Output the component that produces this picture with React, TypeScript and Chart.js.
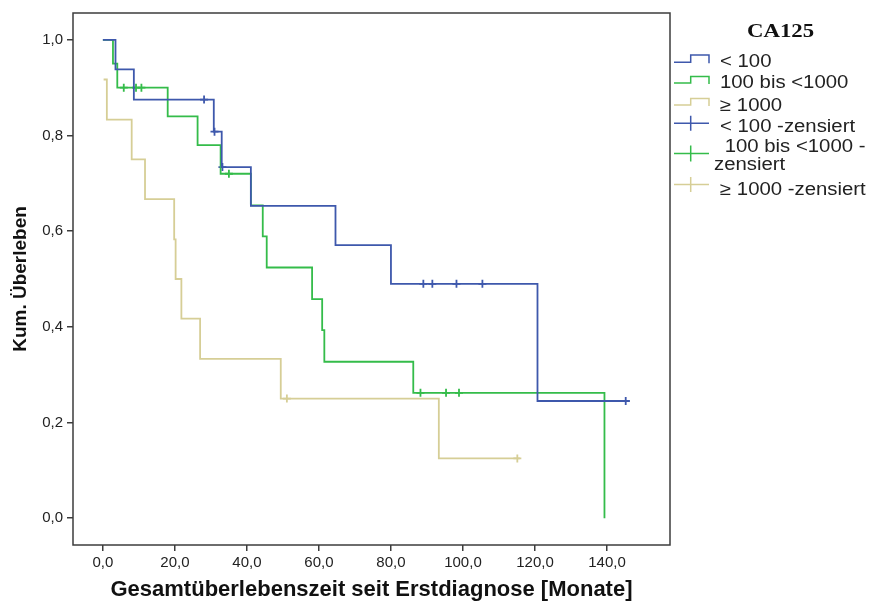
import React, { useEffect, useRef } from 'react';
import { Chart, registerables } from 'chart.js';

Chart.register(...registerables);

// ---- data ----
const xTicks = [0, 20, 40, 60, 80, 100, 120, 140];
const yTicks = [0, 0.2, 0.4, 0.6, 0.8, 1.0];

const seriesLabels = ['< 100', '100 bis <1000', '≥ 1000'];
const censorLabels = ['< 100 -zensiert', '100 bis <1000 -zensiert', '≥ 1000 -zensiert'];

// CA125 < 100
const lowTimes = [0, 3.5, 8.6, 30.8, 33.0, 41.1, 64.6, 80.0, 120.7, 146.3];
const lowSurv = [1.0, 0.938, 0.875, 0.808, 0.734, 0.653, 0.571, 0.49, 0.245, 0.245];
const lowCensTimes = [28.1, 31.0, 33.2, 89.0, 91.5, 98.2, 105.4, 145.2];
const lowCensSurv = [0.875, 0.808, 0.734, 0.49, 0.49, 0.49, 0.49, 0.245];

// CA125 100 bis <1000
const midTimes = [0, 2.8, 4.0, 18.0, 26.3, 32.7, 41.1, 44.4, 45.5, 58.1, 60.9, 61.5, 86.2, 139.3];
const midSurv = [1.0, 0.95, 0.9, 0.84, 0.78, 0.72, 0.654, 0.589, 0.524, 0.458, 0.393, 0.327, 0.262, 0.0];
const midCensTimes = [5.8, 9.2, 10.7, 35.0, 88.2, 95.3, 98.9];
const midCensSurv = [0.9, 0.9, 0.9, 0.72, 0.262, 0.262, 0.262];

// CA125 >= 1000
const highTimes = [0.2, 1.1, 8.0, 11.7, 19.8, 20.2, 21.8, 27.0, 49.4, 93.3, 115.8];
const highSurv = [0.917, 0.833, 0.75, 0.667, 0.583, 0.5, 0.417, 0.333, 0.25, 0.125, 0.125];
const highCensTimes = [51.1, 115.1];
const highCensSurv = [0.25, 0.125];

const colors = ['rgb(62,88,172)', 'rgb(52,188,74)', 'rgb(214,206,150)'];

const FONT = '"Liberation Sans", Arial, sans-serif';
const STRETCH = 1.13;

function pts(t: number[], s: number[]) {
  return t.map((v, i) => ({ x: v, y: s[i] }));
}

function fmt(v: number) {
  return v.toFixed(1).replace('.', ',');
}

function drawText(ctx: CanvasRenderingContext2D, text: string, x: number, y: number, font: string, color: string, sx: number) {
  ctx.save();
  ctx.translate(x, y);
  ctx.scale(sx, 1);
  ctx.font = font;
  ctx.fillStyle = color;
  ctx.textAlign = 'left';
  ctx.textBaseline = 'alphabetic';
  ctx.fillText(text, 0, 0);
  ctx.restore();
}

const framePlugin = {
  id: 'kmFrameLegend',
  afterDraw(chart: any) {
    const ctx: CanvasRenderingContext2D = chart.ctx;
    const { left, top, right, bottom } = chart.chartArea;
    ctx.save();
    ctx.strokeStyle = '#3c3c3c';
    ctx.lineWidth = 1.5;
    ctx.strokeRect(left, top, right - left, bottom - top);

    // legend title
    drawText(ctx, 'CA125', 747, 37, 'bold 19px "Liberation Serif", "Times New Roman", serif', '#111', 1.2);

    const ds = chart.data.datasets;
    const textFont = `18px ${FONT}`;
    const x0 = 674;
    const xm = 690.7;
    const x1 = 709;
    ctx.lineWidth = 1.5;
    // step icons for the three curves
    const stepRows = [
      { low: 62.3, high: 55, text: 60 },
      { low: 83, high: 76.5, text: 81.7 },
      { low: 105, high: 98.5, text: 104.3 },
    ];
    stepRows.forEach((r, i) => {
      ctx.strokeStyle = ds[i].borderColor;
      ctx.beginPath();
      ctx.moveTo(x0, r.low);
      ctx.lineTo(xm, r.low);
      ctx.lineTo(xm, r.high);
      ctx.lineTo(x1, r.high);
      ctx.lineTo(x1, r.low + 1);
      ctx.stroke();
      drawText(ctx, ds[i].label, 720, r.text + 6.5, textFont, '#222', STRETCH);
    });
    // censor icons
    const cRows = [
      { line: 123.3, h: 7.5 },
      { line: 153.5, h: 8 },
      { line: 184.5, h: 7.5 },
    ];
    cRows.forEach((r, i) => {
      ctx.strokeStyle = ds[i + 3].borderColor;
      ctx.beginPath();
      ctx.moveTo(x0, r.line);
      ctx.lineTo(x1, r.line);
      ctx.moveTo(xm, r.line - r.h);
      ctx.lineTo(xm, r.line + r.h);
      ctx.stroke();
    });
    const l3 = ds[3].label;
    const l4 = ds[4].label as string;
    const l5 = ds[5].label;
    drawText(ctx, l3, 720, 125 + 6.5, textFont, '#222', STRETCH);
    const cut = l4.indexOf('-') + 1;
    drawText(ctx, ' ' + l4.slice(0, cut), 719, 145 + 6.5, textFont, '#222', STRETCH);
    drawText(ctx, l4.slice(cut), 714, 163 + 6.5, textFont, '#222', STRETCH);
    drawText(ctx, l5, 720, 188 + 6.5, textFont, '#222', STRETCH);
    ctx.restore();
  },
};

export default function App() {
  const ref = useRef<HTMLCanvasElement | null>(null);
  useEffect(() => {
    if (!ref.current) return;
    const stepDs = (label: string, t: number[], s: number[], c: string) => ({
      type: 'line' as const,
      label,
      data: pts(t, s),
      stepped: true,
      borderColor: c,
      backgroundColor: c,
      borderWidth: 1.8,
      pointRadius: 0,
      pointHoverRadius: 0,
      fill: false,
    });
    const censDs = (label: string, t: number[], s: number[], c: string) => ({
      type: 'line' as const,
      label,
      data: pts(t, s),
      showLine: false,
      borderColor: c,
      backgroundColor: c,
      pointStyle: 'cross',
      pointRadius: 4,
      pointBorderWidth: 1.8,
      borderWidth: 1.8,
    });
    const chart = new Chart(ref.current, {
      type: 'line',
      data: {
        datasets: [
          stepDs(seriesLabels[0], lowTimes, lowSurv, colors[0]),
          stepDs(seriesLabels[1], midTimes, midSurv, colors[1]),
          stepDs(seriesLabels[2], highTimes, highSurv, colors[2]),
          censDs(censorLabels[0], lowCensTimes, lowCensSurv, colors[0]),
          censDs(censorLabels[1], midCensTimes, midCensSurv, colors[1]),
          censDs(censorLabels[2], highCensTimes, highCensSurv, colors[2]),
        ] as any,
      },
      options: {
        responsive: false,
        devicePixelRatio: 1,
        animation: false,
        events: [],
        layout: { padding: { left: 0, top: 12, right: 207, bottom: 0 } },
        plugins: {
          legend: { display: false },
          tooltip: { enabled: false },
          title: { display: false },
        },
        scales: {
          x: {
            type: 'linear',
            min: -8.3,
            max: 157.5,
            afterBuildTicks: (s: any) => {
              s.ticks = xTicks.map((v) => ({ value: v }));
            },
            afterFit: (s: any) => {
              s.height = 59;
            },
            ticks: {
              callback: (v: any) => fmt(Number(v)),
              font: { family: FONT, size: 15 },
              color: '#222',
              padding: 3,
              maxRotation: 0,
              autoSkip: false,
            },
            grid: { drawOnChartArea: false, drawTicks: true, tickLength: 6, color: '#3c3c3c', lineWidth: 1.5 },
            border: { display: false },
            title: {
              display: true,
              text: 'Gesamtüberlebenszeit seit Erstdiagnose [Monate]',
              font: { family: FONT, size: 22, weight: 'bold' },
              color: '#111',
              padding: { top: 0, bottom: 1 },
            },
          },
          y: {
            type: 'linear',
            min: -0.056,
            max: 1.056,
            afterBuildTicks: (s: any) => {
              s.ticks = yTicks.map((v) => ({ value: v }));
            },
            afterFit: (s: any) => {
              s.width = 73;
            },
            ticks: {
              callback: (v: any) => fmt(Number(v)),
              font: { family: FONT, size: 15 },
              color: '#222',
              padding: 4,
              autoSkip: false,
            },
            grid: { drawOnChartArea: false, drawTicks: true, tickLength: 6, color: '#3c3c3c', lineWidth: 1.5 },
            border: { display: false },
            title: {
              display: true,
              text: 'Kum. Überleben',
              font: { family: FONT, size: 19, weight: 'bold' },
              color: '#111',
              padding: { top: 9, bottom: 0 },
            },
          },
        },
      } as any,
      plugins: [framePlugin],
    });
    return () => chart.destroy();
  }, []);
  return (
    <div style={{ position: 'fixed', left: 0, top: 0, width: 877, height: 604, background: '#fff' }}>
      <canvas ref={ref} width={877} height={604} style={{ display: 'block', width: 877, height: 604 }} />
    </div>
  );
}
